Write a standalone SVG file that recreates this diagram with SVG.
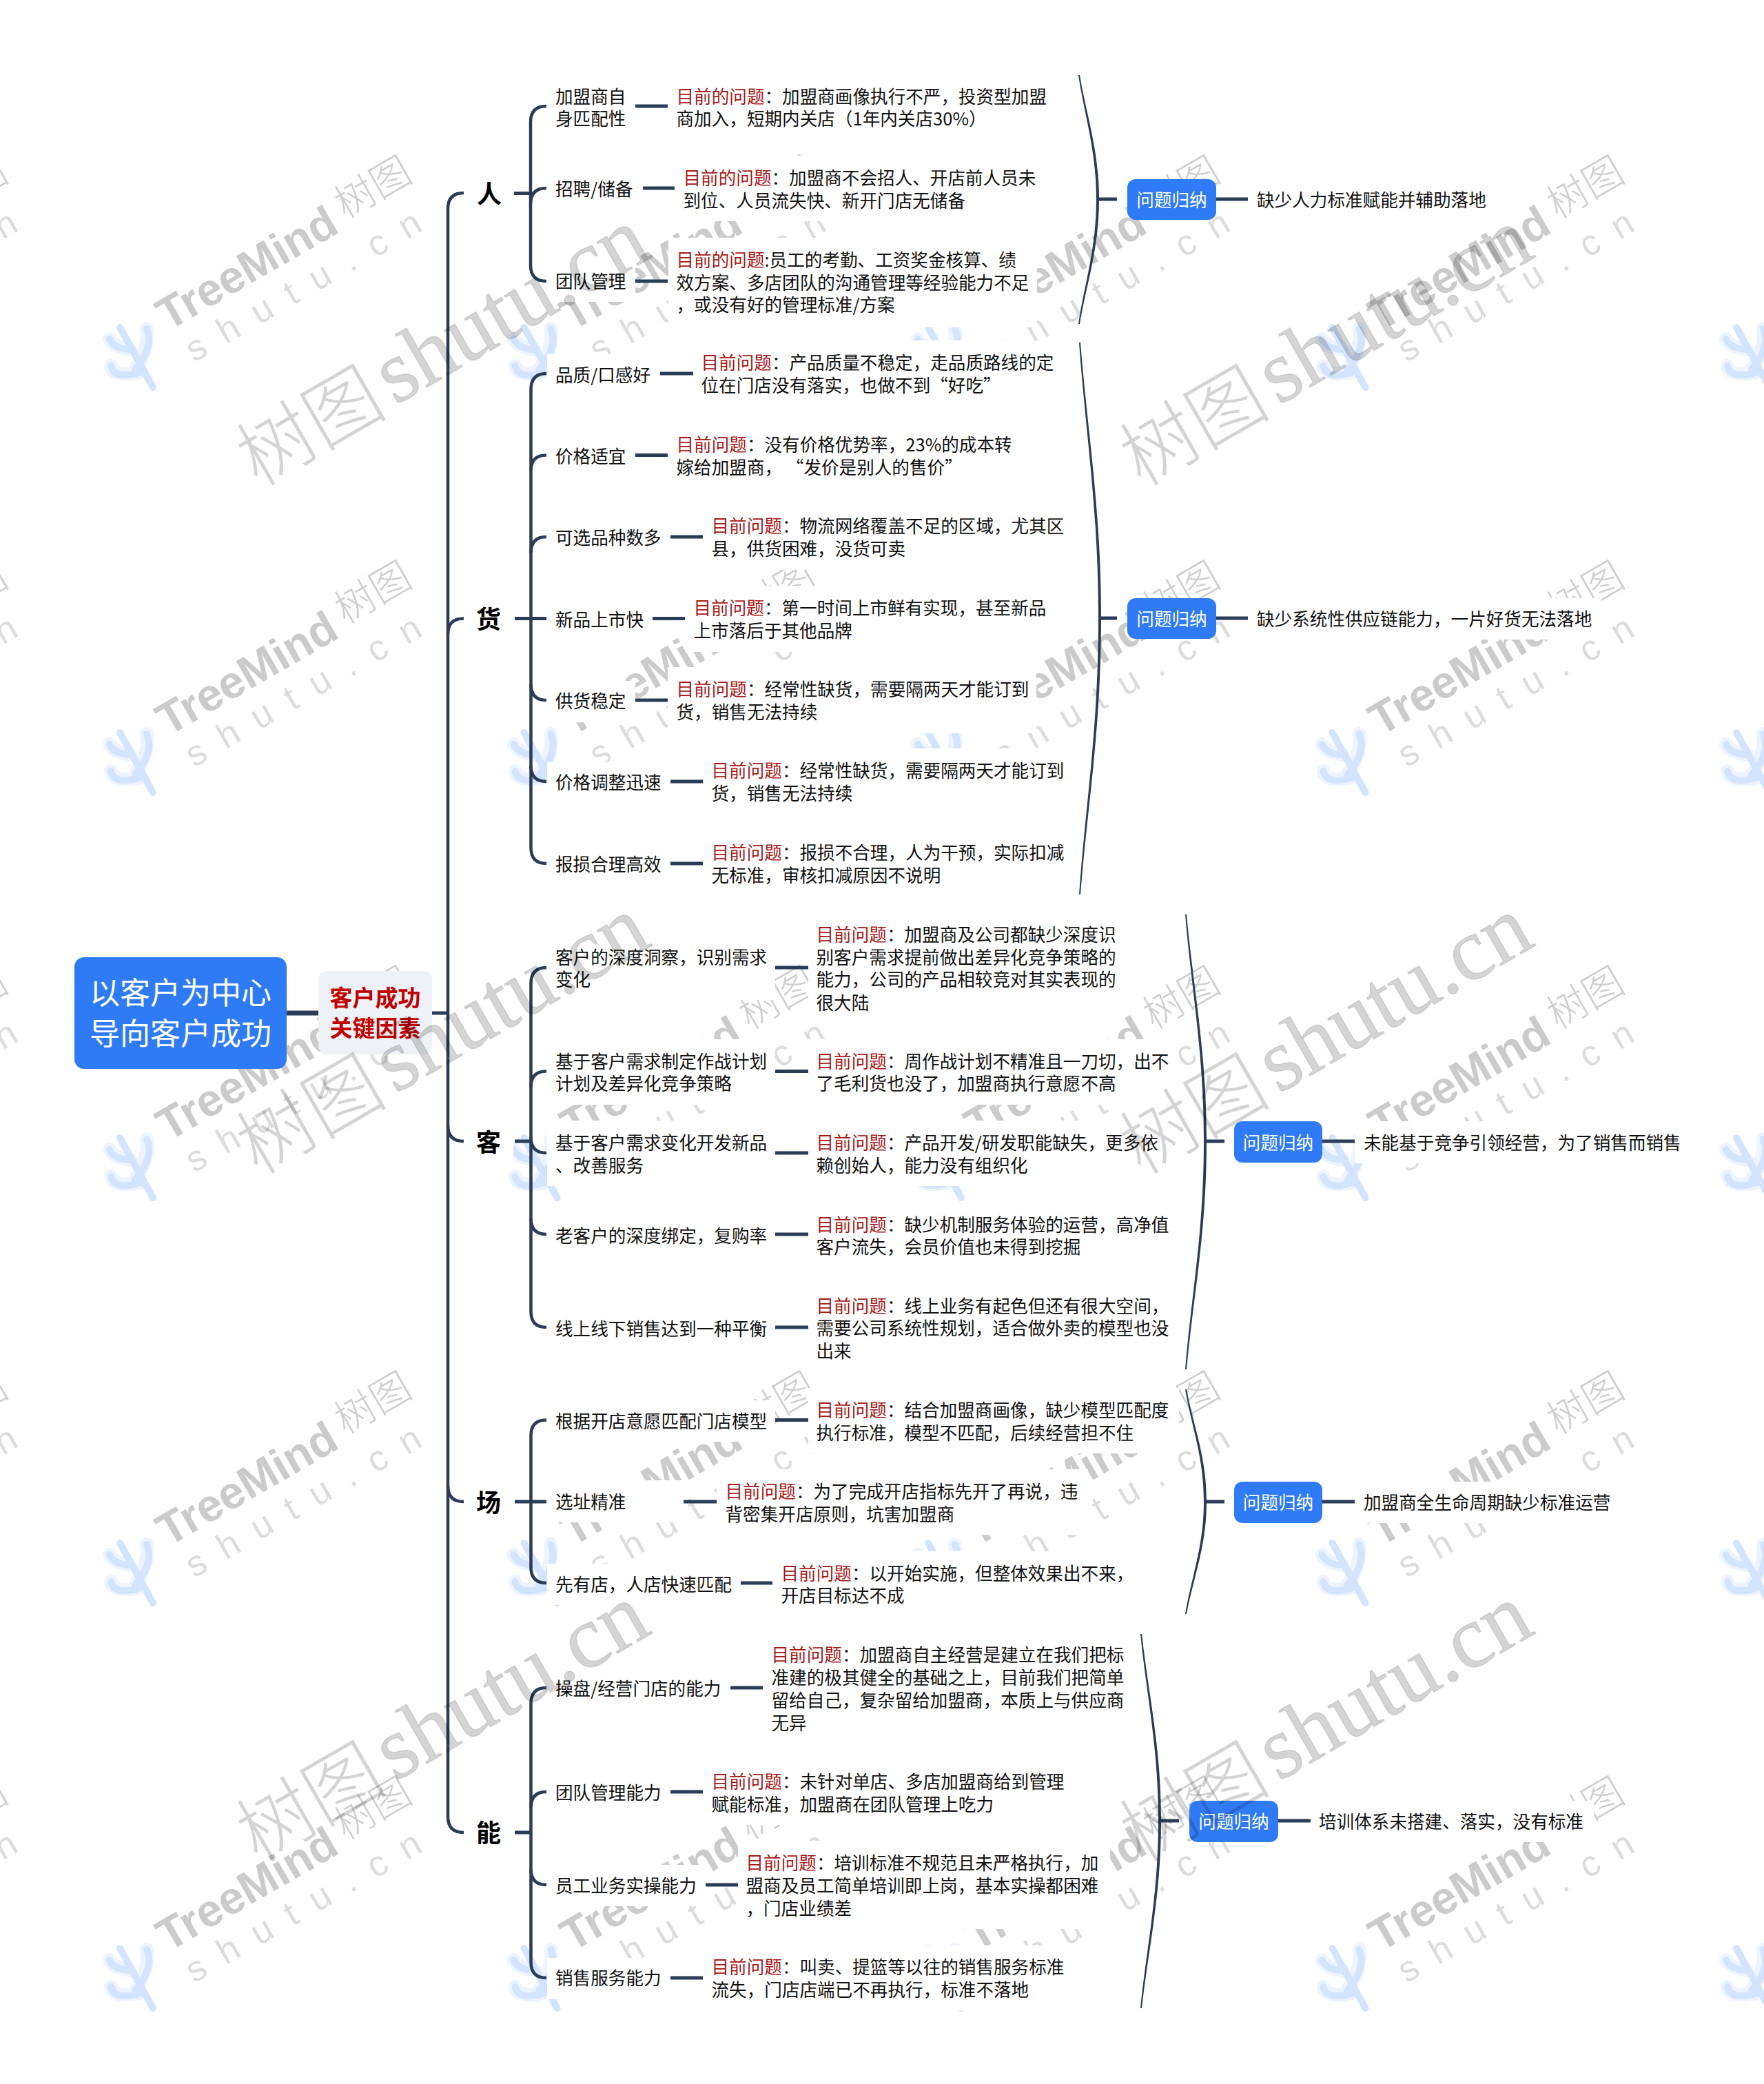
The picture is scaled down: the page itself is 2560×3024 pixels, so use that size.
<svg xmlns="http://www.w3.org/2000/svg" width="2560" height="3024" viewBox="0 0 2560 3024">
<style>
text{font-family:"Noto Sans CJK SC","Noto Sans",sans-serif}
.t{font-size:25.6px;fill:#111}
.r{fill:#a81818}
.bg{fill:#fff}
.lab{font-size:36px;font-weight:700;fill:#000;text-anchor:middle}
.sb{fill:#2f7bf6}
.st{font-size:25.6px;fill:#fff;text-anchor:middle}
.c{fill:none;stroke:#2a3c56;stroke-width:5}
.v{fill:none;stroke:#2a3c56;stroke-width:4.5}
.b{fill:#2a3c56}
.wt{font-family:"Liberation Sans",sans-serif;font-weight:700;font-size:66px;fill:#cbcbcb}
.wc{font-size:58px;font-weight:300;fill:#cfcfcf}
.ws{font-family:"Liberation Sans",sans-serif;font-size:52px;letter-spacing:27px;fill:#dcdcdc}
.bc{font-size:110px;font-weight:300;fill:#000;fill-opacity:.17}
.bs{font-family:"Liberation Serif",serif;font-size:129px;fill:#000;fill-opacity:.17;stroke:#000;stroke-opacity:.1;stroke-width:1.5}
</style>
<defs>
<g id="wm">
<g fill="none" stroke-linecap="round" stroke-linejoin="round">
<g stroke="#eef4ff" stroke-width="20"><path d="M213,477Q217,504 196,536"/><path d="M159,492Q165,504 189,507"/><path d="M161,531Q165,548 204,540"/></g>
<g stroke="#d3e4ff" stroke-width="10"><path d="M174,475L222,562"/><path d="M213,477Q224,504 196,536"/><path d="M159,492Q165,506 189,507"/><path d="M161,531Q166,552 204,540"/></g>
</g>
<g transform="translate(244,481) rotate(-30)">
<text class="wt" x="0" y="0">TreeMind</text>
<text class="wc" x="304" y="-12">树图</text>
<text class="ws" x="10" y="58">shutu.cn</text>
</g>
</g>
<g id="big">
<text class="bc" x="-232" y="6">树图</text>
<text class="bs" x="0" y="3">shutu.cn</text>
</g>
</defs>
<rect width="2560" height="3024" fill="#fff"/>
<g id="watermark-tile">
<use href="#wm" x="-586.5" y="-588"/><use href="#wm" x="0" y="-588"/><use href="#wm" x="586.5" y="-588"/><use href="#wm" x="1173" y="-588"/><use href="#wm" x="1759.5" y="-588"/><use href="#wm" x="2346" y="-588"/>
<use href="#wm" x="-586.5" y="0"/><use href="#wm" x="0" y="0"/><use href="#wm" x="586.5" y="0"/><use href="#wm" x="1173" y="0"/><use href="#wm" x="1759.5" y="0"/><use href="#wm" x="2346" y="0"/>
<use href="#wm" x="-586.5" y="588"/><use href="#wm" x="0" y="588"/><use href="#wm" x="586.5" y="588"/><use href="#wm" x="1173" y="588"/><use href="#wm" x="1759.5" y="588"/><use href="#wm" x="2346" y="588"/>
<use href="#wm" x="-586.5" y="1176"/><use href="#wm" x="0" y="1176"/><use href="#wm" x="586.5" y="1176"/><use href="#wm" x="1173" y="1176"/><use href="#wm" x="1759.5" y="1176"/><use href="#wm" x="2346" y="1176"/>
<use href="#wm" x="-586.5" y="1764"/><use href="#wm" x="0" y="1764"/><use href="#wm" x="586.5" y="1764"/><use href="#wm" x="1173" y="1764"/><use href="#wm" x="1759.5" y="1764"/><use href="#wm" x="2346" y="1764"/>
<use href="#wm" x="-586.5" y="2352"/><use href="#wm" x="0" y="2352"/><use href="#wm" x="586.5" y="2352"/><use href="#wm" x="1173" y="2352"/><use href="#wm" x="1759.5" y="2352"/><use href="#wm" x="2346" y="2352"/>
</g>

<g id="nodes">
<g id="root"><rect x="108" y="1389" width="308" height="162" rx="14" class="sb"/><text x="262" y="1457" font-size="44" fill="#fff" text-anchor="middle">以客户为中心</text><text x="262" y="1516" font-size="44" fill="#fff" text-anchor="middle">导向客户成功</text></g>
<g id="factor"><rect x="462" y="1409" width="165" height="121" rx="12" fill="#eef1f5"/><text x="544.5" y="1460" font-size="33" font-weight="700" fill="#c00000" text-anchor="middle">客户成功</text><text x="544.5" y="1504" font-size="33" font-weight="700" fill="#c00000" text-anchor="middle">关键因素</text></g>

<g id="cat-ren"><rect class="bg" x="675" y="245" width="70" height="72"/><text class="lab" x="710" y="295">人</text></g>
<g id="cat-huo"><rect class="bg" x="675" y="862" width="70" height="72"/><text class="lab" x="709" y="912">货</text></g>
<g id="cat-ke"><rect class="bg" x="675" y="1620" width="70" height="72"/><text class="lab" x="709" y="1671">客</text></g>
<g id="cat-chang"><rect class="bg" x="675" y="2143" width="70" height="72"/><text class="lab" x="709" y="2194">场</text></g>
<g id="cat-neng"><rect class="bg" x="675" y="2623" width="70" height="72"/><text class="lab" x="709" y="2673">能</text></g>

<g id="l1"><rect class="bg" x="794" y="108" width="128" height="95"/><text class="t" x="806" y="150">加盟商自</text><text class="t" x="806" y="182">身匹配性</text></g>
<g id="d1"><rect class="bg" x="970" y="108" width="564" height="95"/><text class="t" x="981.500" y="150"><tspan class="r">目前的问题</tspan>：加盟商画像执行不严，投资型加盟</text><text class="t" x="981.500" y="182">商加入，短期内关店（1年内关店30%）</text></g>
<g id="l2"><rect class="bg" x="794" y="245" width="139" height="60"/><text class="t" x="806" y="284">招聘/储备</text></g>
<g id="d2"><rect class="bg" x="980" y="226" width="538" height="95"/><text class="t" x="991.500" y="268"><tspan class="r">目前的问题</tspan>：加盟商不会招人、开店前人员未</text><text class="t" x="991.500" y="300.500">到位、人员流失快、新开门店无储备</text></g>
<g id="l3"><rect class="bg" x="794" y="378" width="128" height="60"/><text class="t" x="806" y="418">团队管理</text></g>
<g id="d3"><rect class="bg" x="970" y="345" width="535" height="130"/><text class="t" x="981.500" y="387"><tspan class="r">目前的问题</tspan>:员工的考勤、工资奖金核算、绩</text><text class="t" x="981.500" y="420">效方案、多店团队的沟通管理等经验能力不足</text><text class="t" x="981.500" y="452">，或没有好的管理标准/方案</text></g>

<g id="l4"><rect class="bg" x="794" y="514" width="164" height="60"/><text class="t" x="806" y="553.500">品质/口感好</text></g>
<g id="d4"><rect class="bg" x="1006" y="494" width="538" height="96"/><text class="t" x="1017.500" y="536"><tspan class="r">目前问题</tspan>：产品质量不稳定，走品质路线的定</text><text class="t" x="1017.500" y="569">位在门店没有落实，也做不到“好吃”</text></g>
<g id="l5"><rect class="bg" x="794" y="633" width="128" height="60"/><text class="t" x="806" y="672">价格适宜</text></g>
<g id="d5"><rect class="bg" x="969" y="613" width="525" height="96"/><text class="t" x="981.500" y="655"><tspan class="r">目前问题</tspan>：没有价格优势率，23%的成本转</text><text class="t" x="981.500" y="688">嫁给加盟商， “发价是别人的售价”</text></g>
<g id="l6"><rect class="bg" x="794" y="751" width="179" height="60"/><text class="t" x="806" y="790">可选品种数多</text></g>
<g id="d6"><rect class="bg" x="1020" y="731" width="538" height="96"/><text class="t" x="1032.500" y="773"><tspan class="r">目前问题</tspan>：物流网络覆盖不足的区域，尤其区</text><text class="t" x="1032.500" y="806">县，供货困难，没货可卖</text></g>
<g id="l7"><rect class="bg" x="794" y="870" width="153" height="60"/><text class="t" x="806" y="908.500">新品上市快</text></g>
<g id="d7"><rect class="bg" x="994" y="850" width="538" height="96"/><text class="t" x="1006.500" y="892"><tspan class="r">目前问题</tspan>：第一时间上市鲜有实现，甚至新品</text><text class="t" x="1006.500" y="925">上市落后于其他品牌</text></g>
<g id="l8"><rect class="bg" x="794" y="988" width="128" height="60"/><text class="t" x="806" y="1027">供货稳定</text></g>
<g id="d8"><rect class="bg" x="969" y="968" width="535" height="96"/><text class="t" x="981.500" y="1010"><tspan class="r">目前问题</tspan>：经常性缺货，需要隔两天才能订到</text><text class="t" x="981.500" y="1043">货，销售无法持续</text></g>
<g id="l9"><rect class="bg" x="794" y="1106" width="179" height="60"/><text class="t" x="806" y="1145">价格调整迅速</text></g>
<g id="d9"><rect class="bg" x="1020" y="1086" width="538" height="96"/><text class="t" x="1032.500" y="1128"><tspan class="r">目前问题</tspan>：经常性缺货，需要隔两天才能订到</text><text class="t" x="1032.500" y="1161">货，销售无法持续</text></g>
<g id="l10"><rect class="bg" x="794" y="1225" width="179" height="60"/><text class="t" x="806" y="1264">报损合理高效</text></g>
<g id="d10"><rect class="bg" x="1020" y="1205" width="538" height="96"/><text class="t" x="1032.500" y="1247"><tspan class="r">目前问题</tspan>：报损不合理，人为干预，实际扣减</text><text class="t" x="1032.500" y="1280">无标准，审核扣减原因不说明</text></g>

<g id="l11"><rect class="bg" x="794" y="1357" width="331" height="94"/><text class="t" x="806" y="1399">客户的深度洞察，识别需求</text><text class="t" x="806" y="1431">变化</text></g>
<g id="d11"><rect class="bg" x="1173" y="1324" width="460" height="161"/><text class="t" x="1184.500" y="1366"><tspan class="r">目前问题</tspan>：加盟商及公司都缺少深度识</text><text class="t" x="1184.500" y="1399">别客户需求提前做出差异化竞争策略的</text><text class="t" x="1184.500" y="1431">能力，公司的产品相较竞对其实表现的</text><text class="t" x="1184.500" y="1464.500">很大陆</text></g>
<g id="l12"><rect class="bg" x="794" y="1508" width="331" height="95"/><text class="t" x="806" y="1549.500">基于客户需求制定作战计划</text><text class="t" x="806" y="1582">计划及差异化竞争策略</text></g>
<g id="d12"><rect class="bg" x="1173" y="1508" width="538" height="95"/><text class="t" x="1184.500" y="1549.500"><tspan class="r">目前问题</tspan>：周作战计划不精准且一刀切，出不</text><text class="t" x="1184.500" y="1582">了毛利货也没了，加盟商执行意愿不高</text></g>
<g id="l13"><rect class="bg" x="794" y="1626" width="331" height="95"/><text class="t" x="806" y="1668">基于客户需求变化开发新品</text><text class="t" x="806" y="1700.500">、改善服务</text></g>
<g id="d13"><rect class="bg" x="1173" y="1626" width="538" height="95"/><text class="t" x="1184.500" y="1668"><tspan class="r">目前问题</tspan>：产品开发/研发职能缺失，更多依</text><text class="t" x="1184.500" y="1700.500">赖创始人，能力没有组织化</text></g>
<g id="l14"><rect class="bg" x="794" y="1763" width="331" height="60"/><text class="t" x="806" y="1802.500">老客户的深度绑定，复购率</text></g>
<g id="d14"><rect class="bg" x="1173" y="1745" width="538" height="94"/><text class="t" x="1184.500" y="1786.500"><tspan class="r">目前问题</tspan>：缺少机制服务体验的运营，高净值</text><text class="t" x="1184.500" y="1819">客户流失，会员价值也未得到挖掘</text></g>
<g id="l15"><rect class="bg" x="794" y="1898" width="331" height="60"/><text class="t" x="806" y="1937.500">线上线下销售达到一种平衡</text></g>
<g id="d15"><rect class="bg" x="1173" y="1863" width="538" height="127"/><text class="t" x="1184.500" y="1904.500"><tspan class="r">目前问题</tspan>：线上业务有起色但还有很大空间，</text><text class="t" x="1184.500" y="1937">需要公司系统性规划，适合做外卖的模型也没</text><text class="t" x="1184.500" y="1970">出来</text></g>

<g id="l16"><rect class="bg" x="794" y="2032" width="331" height="60"/><text class="t" x="806" y="2072">根据开店意愿匹配门店模型</text></g>
<g id="d16"><rect class="bg" x="1173" y="2014" width="538" height="95"/><text class="t" x="1184.500" y="2055.500"><tspan class="r">目前问题</tspan>：结合加盟商画像，缺少模型匹配度</text><text class="t" x="1184.500" y="2088.500">执行标准，模型不匹配，后续经营担不住</text></g>
<g id="l17"><rect class="bg" x="794" y="2148" width="198" height="61"/><text class="t" x="806" y="2188.500">选址精准</text></g>
<g id="d17"><rect class="bg" x="1040" y="2132" width="539" height="95"/><text class="t" x="1052.500" y="2173.500"><tspan class="r">目前问题</tspan>：为了完成开店指标先开了再说，违</text><text class="t" x="1052.500" y="2206.500">背密集开店原则，坑害加盟商</text></g>
<g id="l18"><rect class="bg" x="794" y="2269" width="281" height="60"/><text class="t" x="806" y="2308.500">先有店，人店快速匹配</text></g>
<g id="d18"><rect class="bg" x="1121" y="2251" width="539" height="94"/><text class="t" x="1133.500" y="2292.500"><tspan class="r">目前问题</tspan>：以开始实施，但整体效果出不来，</text><text class="t" x="1133.500" y="2325">开店目标达不成</text></g>

<g id="l19"><rect class="bg" x="794" y="2420" width="266" height="60"/><text class="t" x="806" y="2460">操盘/经营门店的能力</text></g>
<g id="d19"><rect class="bg" x="1107" y="2369" width="540" height="161"/><text class="t" x="1119.500" y="2410.500"><tspan class="r">目前问题</tspan>：加盟商自主经营是建立在我们把标</text><text class="t" x="1119.500" y="2443.500">准建的极其健全的基础之上，目前我们把简单</text><text class="t" x="1119.500" y="2476.500">留给自己，复杂留给加盟商，本质上与供应商</text><text class="t" x="1119.500" y="2509.500">无异</text></g>
<g id="l20"><rect class="bg" x="794" y="2571" width="179" height="60"/><text class="t" x="806" y="2610.500">团队管理能力</text></g>
<g id="d20"><rect class="bg" x="1020" y="2553" width="540" height="95"/><text class="t" x="1032.500" y="2594.500"><tspan class="r">目前问题</tspan>：未针对单店、多店加盟商给到管理</text><text class="t" x="1032.500" y="2627.500">赋能标准，加盟商在团队管理上吃力</text></g>
<g id="l21"><rect class="bg" x="794" y="2706" width="230" height="60"/><text class="t" x="806" y="2745.500">员工业务实操能力</text></g>
<g id="d21"><rect class="bg" x="1071" y="2671" width="540" height="128"/><text class="t" x="1082.500" y="2713"><tspan class="r">目前问题</tspan>：培训标准不规范且未严格执行，加</text><text class="t" x="1082.500" y="2746">盟商及员工简单培训即上岗，基本实操都困难</text><text class="t" x="1082.500" y="2779">，门店业绩差</text></g>
<g id="l22"><rect class="bg" x="794" y="2841" width="179" height="60"/><text class="t" x="806" y="2880">销售服务能力</text></g>
<g id="d22"><rect class="bg" x="1020" y="2823" width="540" height="94"/><text class="t" x="1032.500" y="2864"><tspan class="r">目前问题</tspan>：叫卖、提篮等以往的销售服务标准</text><text class="t" x="1032.500" y="2896.500">流失，门店店端已不再执行，标准不落地</text></g>

<g id="s1"><rect class="sb" x="1636" y="260" width="129" height="59" rx="12"/><text class="st" x="1700.500" y="300">问题归纳</text></g>
<g id="r1"><rect class="bg" x="1812" y="260" width="359" height="61"/><text class="t" x="1824" y="300">缺少人力标准赋能并辅助落地</text></g>
<g id="s2"><rect class="sb" x="1636" y="868" width="129" height="59" rx="12"/><text class="st" x="1700.500" y="908">问题归纳</text></g>
<g id="r2"><rect class="bg" x="1812" y="868" width="512" height="60"/><text class="t" x="1824" y="908">缺少系统性供应链能力，一片好货无法落地</text></g>
<g id="s3"><rect class="sb" x="1791" y="1627" width="128" height="60" rx="12"/><text class="st" x="1855" y="1668">问题归纳</text></g>
<g id="r3"><rect class="bg" x="1967" y="1627" width="487" height="61"/><text class="t" x="1979" y="1668">未能基于竞争引领经营，为了销售而销售</text></g>
<g id="s4"><rect class="sb" x="1791" y="2150" width="128" height="60" rx="12"/><text class="st" x="1855" y="2190">问题归纳</text></g>
<g id="r4"><rect class="bg" x="1967" y="2150" width="384" height="60"/><text class="t" x="1979" y="2190">加盟商全生命周期缺少标准运营</text></g>
<g id="s5"><rect class="sb" x="1726" y="2613" width="129" height="60" rx="12"/><text class="st" x="1790.500" y="2653">问题归纳</text></g>
<g id="r5"><rect class="bg" x="1903" y="2613" width="410" height="60"/><text class="t" x="1914" y="2653">培训体系未搭建、落实，没有标准</text></g>
</g>

<g id="connectors">
<path d="M416,1470H462" fill="none" stroke="#2a3c56" stroke-width="7"/>
<path class="c" d="M627,1470H650"/>
<path class="v" d="M673,280Q650,280 650,303V2636Q650,2659 673,2659"/>
<path class="v" d="M673,897.500Q650,897.500 650,920"/>
<path class="v" d="M673,1656Q650,1656 650,1633"/>
<path class="v" d="M673,2179Q650,2179 650,2156"/>

<path class="c" d="M746,280.500H770"/><path class="v" d="M793,154Q770,154 770,177V385Q770,408 793,408"/><path class="v" d="M793,273Q770,273 770,296"/>
<path class="c" d="M922,154H969M933,273H979M922,408H969"/>

<path class="c" d="M747,897.500H793"/><path class="v" d="M793,542Q770.500,542 770.500,565V1230Q770.500,1253 793,1253"/>
<path class="v" d="M793,660.500Q770.500,660.500 770.500,683M793,779Q770.500,779 770.500,802M793,1016Q770.500,1016 770.500,993M793,1134Q770.500,1134 770.500,1111"/>
<path class="c" d="M958,542H1006M922,660.500H969M973,779H1020M947,897.500H994M922,1016H969M973,1134H1020M973,1253H1020"/>

<path class="c" d="M747,1656H770"/><path class="v" d="M793,1404Q770.500,1404 770.500,1427V1903Q770.500,1926 793,1926"/>
<path class="v" d="M793,1554.500Q770.500,1554.500 770.500,1577M793,1673Q770.500,1673 770.500,1650M793,1791Q770.500,1791 770.500,1768"/>
<path class="c" d="M1125,1404H1173M1125,1554.500H1173M1125,1673H1173M1125,1791H1173M1125,1926H1173"/>

<path class="c" d="M747,2179H793"/><path class="v" d="M793,2060.500Q770.500,2060.500 770.500,2083V2274Q770.500,2297 793,2297"/>
<path class="c" d="M1125,2060.500H1173M992,2179H1040M1075,2297H1121"/>

<path class="c" d="M747,2659H770"/><path class="v" d="M793,2449Q770.500,2449 770.500,2472V2847Q770.500,2870 793,2870"/>
<path class="v" d="M793,2600Q770.500,2600 770.500,2623M793,2735Q770.500,2735 770.500,2712"/>
<path class="c" d="M1060,2449H1107M973,2600H1020M1024,2735H1071M973,2870H1020"/>

<path class="b" d="M1567,109C1577,168.600 1595,217.300 1595,289.500C1595,361.700 1577,410.400 1567,470L1565,470C1574,410.400 1591,361.700 1591,289.500C1591,217.300 1574,168.600 1565,109Z"/>
<path class="b" d="M1568,497C1578.500,629 1598,737.300 1598,897.500C1598,1057.700 1578.500,1166 1568,1298L1566,1298C1575.500,1166 1594,1057.700 1594,897.500C1594,737.300 1575.500,629 1566,497Z"/>
<path class="b" d="M1722,1327C1732,1436 1751,1525 1751,1657C1751,1789 1732,1878 1722,1987L1720,1987C1729,1878 1747,1789 1747,1657C1747,1525 1729,1436 1720,1327Z"/>
<path class="b" d="M1722,2016C1732,2070 1751,2113 1751,2179C1751,2245 1732,2288 1722,2342L1720,2342C1729,2288 1747,2245 1747,2179C1747,2113 1729,2070 1720,2016Z"/>
<path class="b" d="M1657,2371C1667,2460.600 1685,2534 1685,2642.500C1685,2751 1667,2824.400 1657,2914L1655,2914C1664,2824.400 1681,2751 1681,2642.500C1681,2534 1664,2460.600 1655,2371Z"/>
<path class="c" d="M1595,289H1621M1765,289H1811M1598,897H1621M1765,897H1811M1751,1656H1777M1919,1656H1966M1751,2179H1777M1919,2179H1966M1685,2642H1711M1855,2642H1902"/>
</g>

<g id="watermark-large">
<use href="#big" transform="translate(572,586) rotate(-30)"/><use href="#big" transform="translate(1854,586) rotate(-30)"/>
<use href="#big" transform="translate(572,1585) rotate(-30)"/><use href="#big" transform="translate(1854,1585) rotate(-30)"/>
<use href="#big" transform="translate(572,2583) rotate(-30)"/><use href="#big" transform="translate(1854,2583) rotate(-30)"/>
</g>
</svg>
